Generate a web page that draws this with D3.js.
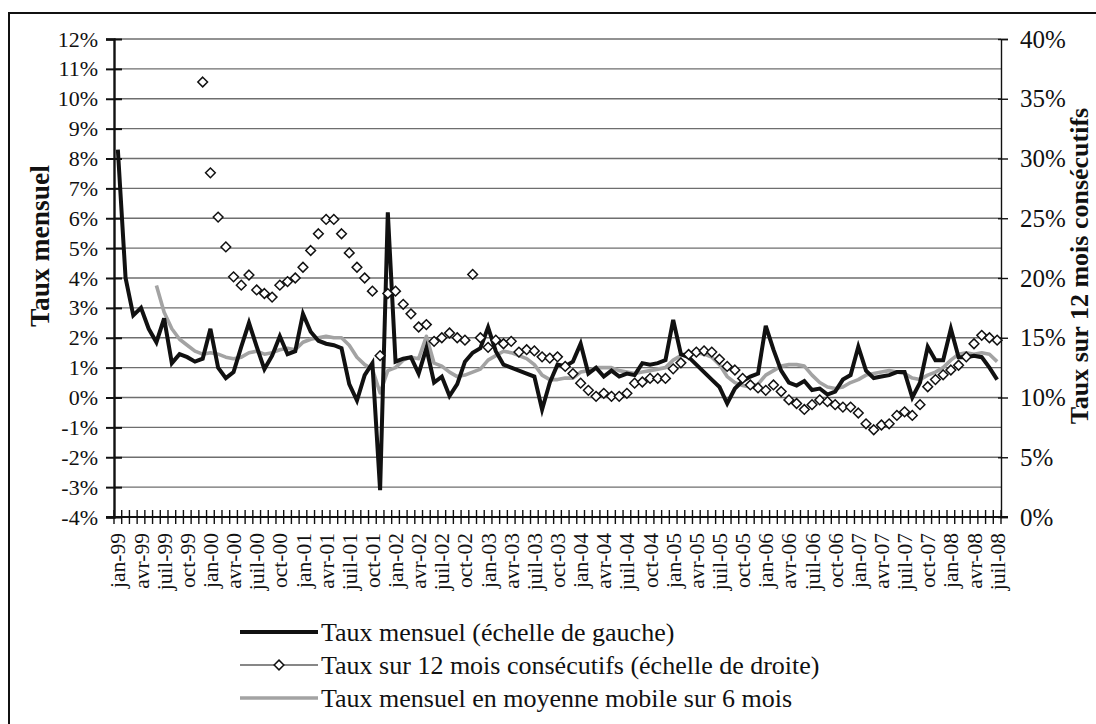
<!DOCTYPE html>
<html><head><meta charset="utf-8">
<script src="https://cdn.jsdelivr.net/npm/d3@7"></script>
<style>
body{margin:0;background:#fff}
svg{display:block}
text{font-family:"Liberation Serif","Times New Roman",serif;fill:#111}
</style>
</head><body>
<svg id="chart" width="1096" height="724"></svg>
<script>
// ---------- DATA ----------
const monthNames = ["jan","févr","mars","avr","mai","juin","juil","août","sept","oct","nov","déc"];
const years = ["99","00","01","02","03","04","05","06","07","08"];
const categories = [];
years.forEach(y => monthNames.forEach(m => categories.push(m + "-" + y)));
categories.splice(115); // jan-99 .. juil-08

const tickLabels = ["jan-99","avr-99","juil-99","oct-99","jan-00","avr-00","juil-00","oct-00",
  "jan-01","avr-01","juil-01","oct-01","jan-02","avr-02","juil-02","oct-02",
  "jan-03","avr-03","juil-03","oct-03","jan-04","avr-04","juil-04","oct-04",
  "jan-05","avr-05","juil-05","oct-05","jan-06","avr-06","juil-06","oct-06",
  "jan-07","avr-07","juil-07","oct-07","jan-08","avr-08","juil-08"];

const leftTicks = [-4,-3,-2,-1,0,1,2,3,4,5,6,7,8,9,10,11,12];
const rightTicks = [0,5,10,15,20,25,30,35,40];

// Taux mensuel (%), left scale
const monthlyRate = [
  8.3,4.0,2.75,3.0,2.3,1.85,2.65,1.15,1.45,1.35,1.2,1.3,
  2.3,1.0,0.65,0.85,1.7,2.5,1.7,0.95,1.4,2.05,1.45,1.55,
  2.8,2.2,1.9,1.8,1.75,1.65,0.45,-0.1,0.75,1.15,-3.1,6.2,
  1.2,1.3,1.35,0.8,1.65,0.5,0.7,0.05,0.45,1.2,1.5,1.65,
  2.35,1.55,1.1,1.0,0.9,0.8,0.7,-0.4,0.5,1.1,1.05,1.2,
  1.8,0.8,1.0,0.7,0.9,0.7,0.8,0.75,1.15,1.1,1.15,1.25,
  2.6,1.45,1.35,1.1,0.85,0.6,0.35,-0.2,0.3,0.55,0.7,0.8,
  2.4,1.6,0.9,0.5,0.4,0.55,0.25,0.3,0.1,0.2,0.6,0.75,
  1.7,0.9,0.65,0.7,0.75,0.85,0.85,0.0,0.5,1.7,1.25,1.25,
  2.3,1.35,1.35,1.4,1.35,1.0,0.6
];

// Taux sur 12 mois consécutifs (%), right scale (starts dec-99)
const rate12 = [
  null,null,null,null,null,null,null,null,null,null,null,36.4,
  28.8,25.1,22.6,20.1,19.4,20.25,19.0,18.7,18.4,19.4,19.7,20.0,
  20.9,22.3,23.7,24.9,24.9,23.7,22.1,20.9,20.0,18.9,13.5,18.7,
  18.9,17.8,17.0,15.9,16.1,14.7,15.0,15.4,15.0,14.8,20.3,15.0,
  14.2,14.8,14.5,14.7,13.8,14.0,13.9,13.4,13.3,13.4,12.6,12.0,
  11.2,10.6,10.1,10.35,10.1,10.1,10.35,11.2,11.3,11.6,11.6,11.6,
  12.4,12.9,13.6,13.8,13.9,13.8,13.2,12.6,12.3,11.6,11.05,10.8,
  10.6,11.05,10.5,9.8,9.5,9.0,9.4,9.8,9.65,9.4,9.2,9.2,
  8.7,7.8,7.3,7.7,7.8,8.5,8.8,8.5,9.4,10.9,11.5,11.9,
  12.3,12.7,13.4,14.5,15.2,15.0,14.8
];

// Taux mensuel en moyenne mobile sur 6 mois (%), left scale (starts jun-99)
const movingAvg6 = [
  null,null,null,null,null,3.75,2.85,2.3,1.95,1.75,1.55,1.45,
  1.5,1.45,1.35,1.3,1.35,1.5,1.55,1.45,1.5,1.6,1.65,1.6,
  1.85,1.95,2.0,2.05,2.0,2.0,1.75,1.35,1.1,0.95,0.15,0.9,
  1.0,1.25,1.35,1.3,2.05,1.15,1.05,0.85,0.7,0.75,0.85,0.95,
  1.25,1.4,1.55,1.5,1.4,1.3,1.1,0.75,0.6,0.6,0.65,0.65,
  0.85,0.9,1.0,1.0,1.0,0.9,0.85,0.8,0.85,0.9,0.95,1.0,
  1.25,1.4,1.5,1.5,1.45,1.35,1.1,0.7,0.5,0.4,0.35,0.45,
  0.75,0.9,1.05,1.1,1.1,1.05,0.75,0.5,0.35,0.3,0.35,0.5,
  0.6,0.75,0.8,0.85,0.9,0.85,0.8,0.65,0.6,0.75,0.85,1.0,
  1.25,1.45,1.5,1.45,1.5,1.45,1.2
];

const legendLabels = [
  "Taux mensuel (échelle de gauche)",
  "Taux sur 12 mois consécutifs (échelle de droite)",
  "Taux mensuel en moyenne mobile sur 6 mois"
];

// ---------- CHART ----------
const svg = d3.select("#chart");
const L = 114, R = 1001, T = 39, B = 517;

const x = d3.scaleBand().domain(categories).range([L, R]).padding(0);
const yL = d3.scaleLinear().domain([-4, 12]).range([B, T]);
const yR = d3.scaleLinear().domain([0, 40]).range([B, T]);
const cx = c => x(c) + x.bandwidth() / 2;

// frame
svg.append("rect").attr("x", 9).attr("y", 13).attr("width", 1100).attr("height", 730)
  .attr("fill", "none").attr("stroke", "#111").attr("stroke-width", 2);

// gridlines
svg.append("g").selectAll("line").data(leftTicks.filter(d => d > -4)).join("line")
  .attr("x1", L).attr("x2", R).attr("y1", d => yL(d)).attr("y2", d => yL(d))
  .attr("stroke", "#6e6e6e").attr("stroke-width", 1.4);

// left axis
const gL = svg.append("g").attr("transform", `translate(${L},0)`)
  .call(d3.axisLeft(yL).tickValues(leftTicks).tickFormat(d => d + "%").tickSize(8).tickPadding(8));
gL.select(".domain").attr("stroke", "#111").attr("stroke-width", 2.4);
gL.selectAll(".tick line").attr("x1", 8).attr("stroke", "#111").attr("stroke-width", 2);
gL.selectAll(".tick text").attr("font-size", 22).attr("font-family", "Liberation Serif").attr("fill", "#111");

// right axis
const gR = svg.append("g").attr("transform", `translate(${R},0)`)
  .call(d3.axisRight(yR).tickValues(rightTicks).tickFormat(d => d + "%").tickSize(7).tickPadding(12));
gR.select(".domain").attr("stroke", "#111").attr("stroke-width", 1.4);
gR.selectAll(".tick line").attr("x1", -3).attr("stroke", "#111").attr("stroke-width", 1.4);
gR.selectAll(".tick text").attr("font-size", 25).attr("font-family", "Liberation Serif").attr("fill", "#111");

// x axis
svg.append("line").attr("x1", 106).attr("x2", 1008).attr("y1", B).attr("y2", B)
  .attr("stroke", "#111").attr("stroke-width", 2);
const bounds = categories.map(c => x(c)).concat([R]);
svg.append("g").selectAll("line").data(bounds).join("line")
  .attr("x1", d => d).attr("x2", d => d).attr("y1", B - 7).attr("y2", B + 7)
  .attr("stroke", "#111").attr("stroke-width", 1.4);
const gX = svg.append("g").attr("transform", `translate(0,${B})`)
  .call(d3.axisBottom(x).tickValues(tickLabels).tickSize(0));
gX.select(".domain").remove();
gX.selectAll(".tick text")
  .attr("font-size", 21.5).attr("font-family", "Liberation Serif").attr("fill", "#111")
  .attr("text-anchor", "end").attr("dy", "0.35em")
  .attr("transform", "translate(0,16) rotate(-90)").attr("x", 0).attr("y", 0);

// moving average (gray)
const lineL = d3.line().defined(d => d.v !== null).x(d => cx(d.c)).y(d => yL(d.v));
svg.append("path")
  .datum(categories.map((c, i) => ({c, v: movingAvg6[i]})))
  .attr("d", lineL).attr("fill", "none").attr("stroke", "#a3a3a3").attr("stroke-width", 3.6)
  .attr("stroke-linejoin", "round");

// monthly (black)
svg.append("path")
  .datum(categories.map((c, i) => ({c, v: monthlyRate[i]})))
  .attr("d", lineL).attr("fill", "none").attr("stroke", "#111").attr("stroke-width", 4)
  .attr("stroke-linejoin", "miter");

// 12-month diamonds
const diamond = d3.symbol().type(d3.symbolDiamond2).size(60);
svg.append("g").selectAll("path")
  .data(categories.map((c, i) => ({c, v: rate12[i]})).filter(d => d.v !== null))
  .join("path")
  .attr("d", diamond)
  .attr("transform", d => `translate(${cx(d.c)},${yR(d.v)})`)
  .attr("fill", "#fff").attr("stroke", "#111").attr("stroke-width", 1.5);

// axis titles
svg.append("text").attr("transform", "translate(49,246) rotate(-90)")
  .attr("text-anchor", "middle").attr("font-size", 27.5).attr("font-weight", "bold")
  .text("Taux mensuel");
svg.append("text").attr("transform", "translate(1088,266) rotate(-90)")
  .attr("text-anchor", "middle").attr("font-size", 26).attr("font-weight", "bold")
  .text("Taux sur 12 mois consécutifs");

// legend
const legY = [632, 665, 698];
const lg = svg.append("g");
lg.append("line").attr("x1", 240).attr("x2", 318).attr("y1", legY[0]).attr("y2", legY[0])
  .attr("stroke", "#111").attr("stroke-width", 4);
lg.append("line").attr("x1", 240).attr("x2", 318).attr("y1", legY[1]).attr("y2", legY[1])
  .attr("stroke", "#111").attr("stroke-width", 1.2);
lg.append("path").attr("d", diamond).attr("transform", `translate(279,${legY[1]})`)
  .attr("fill", "#fff").attr("stroke", "#111").attr("stroke-width", 1.5);
lg.append("line").attr("x1", 240).attr("x2", 318).attr("y1", legY[2]).attr("y2", legY[2])
  .attr("stroke", "#a3a3a3").attr("stroke-width", 3.6);
lg.selectAll("text").data(legendLabels).join("text")
  .attr("x", 321).attr("y", (d, i) => legY[i]).attr("dy", "0.35em")
  .attr("font-size", 26).text(d => d);
</script>
</body></html>
